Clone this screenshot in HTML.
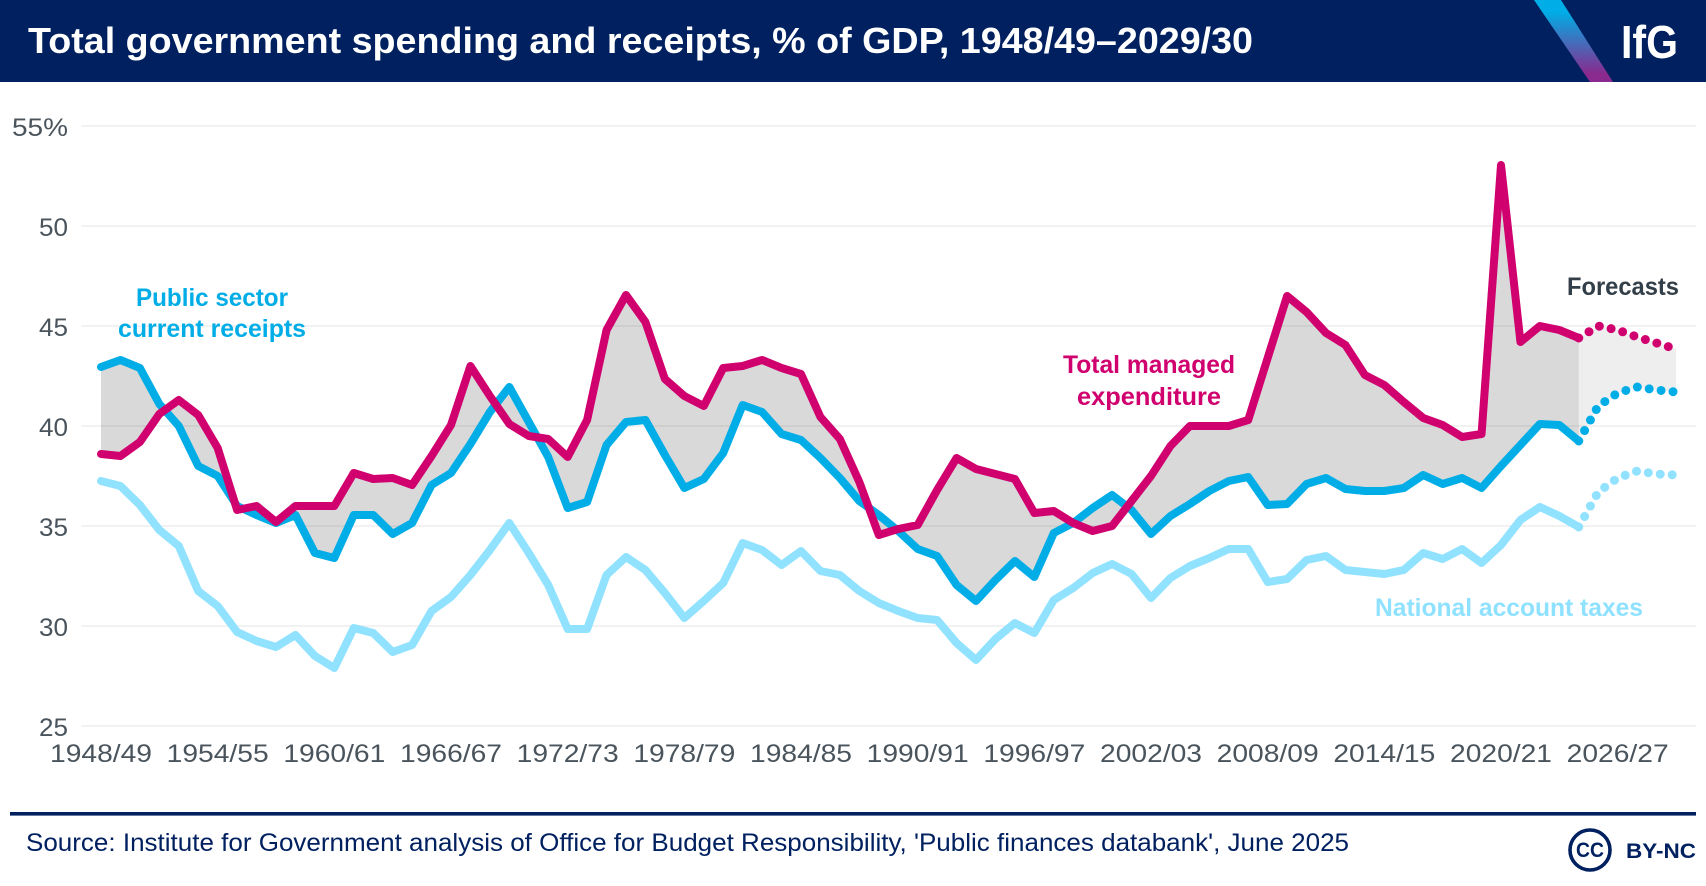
<!DOCTYPE html>
<html lang="en">
<head>
<meta charset="utf-8">
<title>Total government spending and receipts, % of GDP</title>
<style>
html,body{margin:0;padding:0;background:#fff;}
#chart{display:block;width:1706px;height:886px;font-family:"Liberation Sans",sans-serif;}
.note{font-weight:700;font-size:25px;text-anchor:middle;}
</style>
</head>
<body>
<svg id="chart" xmlns="http://www.w3.org/2000/svg" width="1706" height="886" viewBox="0 0 1706 886">
  <defs>
    <linearGradient id="stripe" x1="0" y1="0" x2="0" y2="1">
      <stop offset="0.15" stop-color="#00ade6"/>
      <stop offset="0.9" stop-color="#8a2a8e"/>
    </linearGradient>
  </defs>
  <rect x="0" y="0" width="1706" height="886" fill="#ffffff"/>
  <rect x="0" y="0" width="1706" height="82" fill="#002060"/>
  <text x="28" y="53" font-size="36" font-weight="700" fill="#ffffff" textLength="1225" lengthAdjust="spacingAndGlyphs">Total government spending and receipts, % of GDP, 1948/49–2029/30</text>
  <polygon points="1534,0 1561,0 1613,82 1590,82" fill="url(#stripe)"/>
  <text x="1621" y="58" font-size="46" font-weight="700" fill="#ffffff" textLength="57" lengthAdjust="spacingAndGlyphs">IfG</text>

  <g id="grid"></g>
  <g id="yticks"></g>
  <g id="xticks"></g>
  <g id="areas"></g>
  <g id="lines"></g>

  <text class="note" x="212" y="306" fill="#00ade6" textLength="152" lengthAdjust="spacingAndGlyphs">Public sector</text>
  <text class="note" x="212" y="337" fill="#00ade6" textLength="188" lengthAdjust="spacingAndGlyphs">current receipts</text>
  <text class="note" x="1149" y="373" fill="#d0006f" textLength="172" lengthAdjust="spacingAndGlyphs">Total managed</text>
  <text class="note" x="1149" y="405" fill="#d0006f" textLength="144" lengthAdjust="spacingAndGlyphs">expenditure</text>
  <text class="note" x="1623" y="295" fill="#333f48" textLength="112" lengthAdjust="spacingAndGlyphs">Forecasts</text>
  <text class="note" x="1509" y="616" fill="#8fe2ff" textLength="268" lengthAdjust="spacingAndGlyphs">National account taxes</text>

  <rect x="10" y="812" width="1686" height="3.6" fill="#002060"/>
  <text x="26" y="851" font-size="25" fill="#002060" textLength="1323" lengthAdjust="spacingAndGlyphs">Source: Institute for Government analysis of Office for Budget Responsibility, 'Public finances databank', June 2025</text>
  <circle cx="1590" cy="850" r="20" fill="none" stroke="#002060" stroke-width="3.6"/>
  <text x="1590" y="857" font-size="21" font-weight="700" fill="#002060" text-anchor="middle" textLength="28" lengthAdjust="spacingAndGlyphs">CC</text>
  <text x="1626" y="858" font-size="21" font-weight="700" fill="#002060" textLength="70" lengthAdjust="spacingAndGlyphs">BY-NC</text>
</svg>
<script>
const categories = ["1948/49","1949/50","1950/51","1951/52","1952/53","1953/54","1954/55","1955/56","1956/57","1957/58","1958/59","1959/60","1960/61","1961/62","1962/63","1963/64","1964/65","1965/66","1966/67","1967/68","1968/69","1969/70","1970/71","1971/72","1972/73","1973/74","1974/75","1975/76","1976/77","1977/78","1978/79","1979/80","1980/81","1981/82","1982/83","1983/84","1984/85","1985/86","1986/87","1987/88","1988/89","1989/90","1990/91","1991/92","1992/93","1993/94","1994/95","1995/96","1996/97","1997/98","1998/99","1999/00","2000/01","2001/02","2002/03","2003/04","2004/05","2005/06","2006/07","2007/08","2008/09","2009/10","2010/11","2011/12","2012/13","2013/14","2014/15","2015/16","2016/17","2017/18","2018/19","2019/20","2020/21","2021/22","2022/23","2023/24","2024/25","2025/26","2026/27","2027/28","2028/29","2029/30"];
const totalManagedExpenditure = [38.6,38.5,39.2,40.6,41.3,40.55,38.9,35.8,36.0,35.2,36.0,36.0,36.0,37.65,37.35,37.4,37.05,38.5,40.05,43.0,41.5,40.1,39.5,39.35,38.45,40.3,44.8,46.55,45.2,42.35,41.5,41.0,42.9,43.0,43.3,42.9,42.6,40.45,39.35,37.2,34.55,34.85,35.05,36.8,38.4,37.85,37.6,37.35,35.65,35.75,35.15,34.75,35.0,36.25,37.5,39.0,40.0,40.0,40.0,40.3,43.4,46.5,45.7,44.65,44.05,42.55,42.05,41.2,40.4,40.05,39.45,39.6,53.05,44.2,45.0,44.8,44.4,45.0,44.8,44.45,44.15,43.85];
const publicSectorReceipts = [42.95,43.3,42.9,41.1,40.0,38.0,37.5,36.0,35.55,35.15,35.55,33.65,33.4,35.55,35.55,34.6,35.15,37.05,37.65,39.1,40.7,41.95,40.2,38.45,35.9,36.2,39.05,40.2,40.3,38.55,36.9,37.35,38.65,41.05,40.7,39.6,39.3,38.4,37.4,36.25,35.55,34.75,33.85,33.5,32.05,31.25,32.3,33.25,32.45,34.65,35.15,35.9,36.55,35.8,34.6,35.5,36.1,36.75,37.25,37.45,36.05,36.1,37.1,37.4,36.85,36.75,36.75,36.9,37.55,37.1,37.4,36.9,38.0,39.05,40.1,40.05,39.25,41.0,41.65,41.95,41.8,41.7];
const nationalAccountTaxes = [37.25,37.0,36.05,34.8,34.0,31.75,31.0,29.7,29.25,28.95,29.55,28.5,27.9,29.9,29.65,28.7,29.05,30.75,31.45,32.55,33.8,35.15,33.65,32.05,29.85,29.85,32.55,33.45,32.8,31.65,30.4,31.25,32.15,34.15,33.8,33.05,33.75,32.75,32.55,31.75,31.15,30.75,30.4,30.3,29.15,28.3,29.35,30.15,29.65,31.3,31.9,32.65,33.1,32.6,31.4,32.4,33.0,33.4,33.85,33.85,32.2,32.35,33.3,33.5,32.8,32.7,32.6,32.8,33.65,33.35,33.85,33.15,34.05,35.3,35.95,35.5,34.95,36.7,37.4,37.75,37.6,37.55];
const yTickValues = [25,30,35,40,45,50,55];
const xTickLabels = ["1948/49","1954/55","1960/61","1966/67","1972/73","1978/79","1984/85","1990/91","1996/97","2002/03","2008/09","2014/15","2020/21","2026/27"];
const lastOutturn = "2024/25";

const SVG_NS = "http://www.w3.org/2000/svg";
const xAt = function (i) { return 101 + i * (1676 - 101) / (categories.length - 1); };
const yAt = function (v) { return 726 - (v - 25) * 20; };
const splitIndex = categories.indexOf(lastOutturn);

function make(tag, parentId, attrs) {
  const el = document.createElementNS(SVG_NS, tag);
  Object.keys(attrs).forEach(function (k) { el.setAttribute(k, attrs[k]); });
  document.getElementById(parentId).appendChild(el);
  return el;
}
function toPoints(values, from, to) {
  const pts = [];
  for (let i = from; i <= to; i++) pts.push(xAt(i).toFixed(2) + "," + yAt(values[i]).toFixed(2));
  return pts;
}

yTickValues.forEach(function (v) {
  const line = make("line", "grid", {x1: 81, x2: 1696, y1: yAt(v), y2: yAt(v), stroke: "#f2f2f2", "stroke-width": 2});
  
  
  const isTop = v === yTickValues[yTickValues.length - 1];
  const label = make("text", "yticks", {x: 68, y: yAt(v) + 10, "font-size": 25, fill: "#4a545c", "text-anchor": "end", textLength: isTop ? 56 : 29, lengthAdjust: "spacingAndGlyphs"});
  label.textContent = isTop ? v + "%" : String(v);
  
  
});

xTickLabels.forEach(function (t) {
  const label = make("text", "xticks", {x: xAt(categories.indexOf(t)), y: 762, "font-size": 25, fill: "#4a545c", "text-anchor": "middle", textLength: 102, lengthAdjust: "spacingAndGlyphs"});
  label.textContent = t;
  
  
});

const last = categories.length - 1;
const histArea = make("polygon", "areas", {
  points: toPoints(totalManagedExpenditure, 0, splitIndex).concat(toPoints(publicSectorReceipts, 0, splitIndex).reverse()).join(" "),
  fill: "#000000", "fill-opacity": 0.15
});


const foreArea = make("polygon", "areas", {
  points: toPoints(totalManagedExpenditure, splitIndex, last).concat(toPoints(publicSectorReceipts, splitIndex, last).reverse()).join(" "),
  fill: "#000000", "fill-opacity": 0.065
});



function drawSeries(values, colour, solidName, dottedName) {
  const solid = make("polyline", "lines", {
    points: toPoints(values, 0, splitIndex).join(" "), fill: "none", stroke: colour,
    "stroke-width": 8, "stroke-linejoin": "round", "stroke-linecap": "round"
  });
  
  
  const dotted = make("polyline", "lines", {
    points: toPoints(values, splitIndex, last).join(" "), fill: "none", stroke: colour,
    "stroke-width": 9, "stroke-linecap": "round", "stroke-linejoin": "round", "stroke-dasharray": "0 12"
  });
  
  
}
drawSeries(nationalAccountTaxes, "#91e2ff", "taxes-line", "taxes-forecast-line");
drawSeries(publicSectorReceipts, "#00ade6", "receipts-line", "receipts-forecast-line");
drawSeries(totalManagedExpenditure, "#d0006f", "spending-line", "spending-forecast-line");
</script>
</body>
</html>
